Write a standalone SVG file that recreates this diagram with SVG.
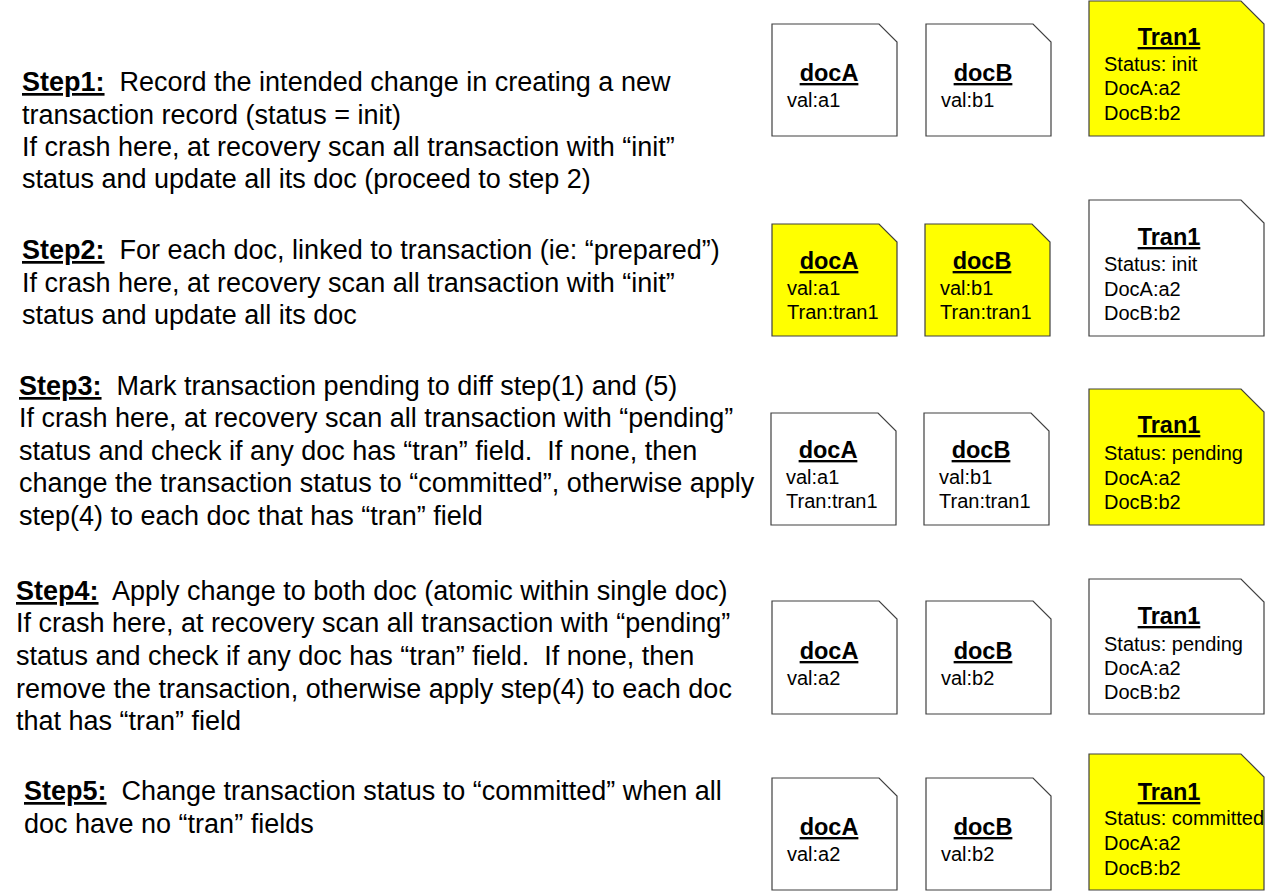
<svg xmlns="http://www.w3.org/2000/svg" width="1283" height="892" viewBox="0 0 1283 892">
<style>
.bg{fill:#fff}
.doc{fill:#fff;stroke:#404040;stroke-width:1.2}
.y{fill:#ffff00}
.t{font-family:"Liberation Sans",Arial,sans-serif;font-size:27px;fill:#000;white-space:pre}
.b{font-weight:bold;text-decoration:underline}
.h{font-family:"Liberation Sans",Arial,sans-serif;font-size:23.5px;font-weight:bold;text-decoration:underline;text-anchor:middle;fill:#000}
.v{font-family:"Liberation Sans",Arial,sans-serif;font-size:20px;fill:#000}
</style>
<rect class="bg" x="0" y="0" width="1283" height="892"/>

<g id="steps">
<g id="step1">
<text class="t" x="22" y="91" xml:space="preserve"><tspan class="b">Step1:</tspan>  Record the intended change in creating a new</text>
<text class="t" x="22" y="124">transaction record (status = init)</text>
<text class="t" x="22" y="156">If crash here, at recovery scan all transaction with “init”</text>
<text class="t" x="22" y="188">status and update all its doc (proceed to step 2)</text>
</g>
<g id="step2">
<text class="t" x="22" y="259" xml:space="preserve"><tspan class="b">Step2:</tspan>  For each doc, linked to transaction (ie: “prepared”)</text>
<text class="t" x="22" y="292">If crash here, at recovery scan all transaction with “init”</text>
<text class="t" x="22" y="324">status and update all its doc</text>
</g>
<g id="step3">
<text class="t" x="19" y="395" xml:space="preserve"><tspan class="b">Step3:</tspan>  Mark transaction pending to diff step(1) and (5)</text>
<text class="t" x="19" y="427">If crash here, at recovery scan all transaction with “pending”</text>
<text class="t" x="19" y="460" xml:space="preserve">status and check if any doc has “tran” field.  If none, then</text>
<text class="t" x="19" y="492">change the transaction status to “committed”, otherwise apply</text>
<text class="t" x="19" y="525">step(4) to each doc that has “tran” field</text>
</g>
<g id="step4">
<text class="t" x="16" y="600" xml:space="preserve"><tspan class="b">Step4:</tspan>  Apply change to both doc (atomic within single doc)</text>
<text class="t" x="16" y="632">If crash here, at recovery scan all transaction with “pending”</text>
<text class="t" x="16" y="665" xml:space="preserve">status and check if any doc has “tran” field.  If none, then</text>
<text class="t" x="16" y="698">remove the transaction, otherwise apply step(4) to each doc</text>
<text class="t" x="16" y="730">that has “tran” field</text>
</g>
<g id="step5">
<text class="t" x="24" y="800" xml:space="preserve"><tspan class="b">Step5:</tspan>  Change transaction status to “committed” when all</text>
<text class="t" x="24" y="833">doc have no “tran” fields</text>
</g>
</g>

<!-- Row 1 -->
<g id="r1-docA">
<path class="doc" d="M772,24 H879 L897,42 V136 H772 Z"/>
<text class="h" x="829" y="81">docA</text>
<text class="v" x="787" y="107">val:a1</text>
</g>
<g id="r1-docB">
<path class="doc" d="M926,24 H1033 L1051,42 V136 H926 Z"/>
<text class="h" x="983" y="81">docB</text>
<text class="v" x="941" y="107">val:b1</text>
</g>
<g id="r1-tran1">
<path class="doc y" d="M1089,1 H1241 L1264,24 V136 H1089 Z"/>
<text class="h" x="1169" y="45">Tran1</text>
<text class="v" x="1104" y="71">Status: init</text>
<text class="v" x="1104" y="95">DocA:a2</text>
<text class="v" x="1104" y="120">DocB:b2</text>
</g>

<!-- Row 2 -->
<g id="r2-docA">
<path class="doc y" d="M772,224 H879 L897,242 V336 H772 Z"/>
<text class="h" x="829" y="269">docA</text>
<text class="v" x="787" y="295">val:a1</text>
<text class="v" x="787" y="319">Tran:tran1</text>
</g>
<g id="r2-docB">
<path class="doc y" d="M925,224 H1032 L1050,242 V336 H925 Z"/>
<text class="h" x="982" y="269">docB</text>
<text class="v" x="940" y="295">val:b1</text>
<text class="v" x="940" y="319">Tran:tran1</text>
</g>
<g id="r2-tran1">
<path class="doc" d="M1089,200 H1241 L1264,223 V336 H1089 Z"/>
<text class="h" x="1169" y="245">Tran1</text>
<text class="v" x="1104" y="271">Status: init</text>
<text class="v" x="1104" y="296">DocA:a2</text>
<text class="v" x="1104" y="320">DocB:b2</text>
</g>

<!-- Row 3 -->
<g id="r3-docA">
<path class="doc" d="M771,413 H878 L896,431 V525 H771 Z"/>
<text class="h" x="828" y="458">docA</text>
<text class="v" x="786" y="484">val:a1</text>
<text class="v" x="786" y="508">Tran:tran1</text>
</g>
<g id="r3-docB">
<path class="doc" d="M924,413 H1031 L1049,431 V525 H924 Z"/>
<text class="h" x="981" y="458">docB</text>
<text class="v" x="939" y="484">val:b1</text>
<text class="v" x="939" y="508">Tran:tran1</text>
</g>
<g id="r3-tran1">
<path class="doc y" d="M1089,389 H1241 L1264,412 V525 H1089 Z"/>
<text class="h" x="1169" y="433">Tran1</text>
<text class="v" x="1104" y="460">Status: pending</text>
<text class="v" x="1104" y="485">DocA:a2</text>
<text class="v" x="1104" y="509">DocB:b2</text>
</g>

<!-- Row 4 -->
<g id="r4-docA">
<path class="doc" d="M772,601 H879 L897,619 V714 H772 Z"/>
<text class="h" x="829" y="659">docA</text>
<text class="v" x="787" y="685">val:a2</text>
</g>
<g id="r4-docB">
<path class="doc" d="M926,601 H1033 L1051,619 V714 H926 Z"/>
<text class="h" x="983" y="659">docB</text>
<text class="v" x="941" y="685">val:b2</text>
</g>
<g id="r4-tran1">
<path class="doc" d="M1089,579 H1241 L1264,602 V714 H1089 Z"/>
<text class="h" x="1169" y="624">Tran1</text>
<text class="v" x="1104" y="651">Status: pending</text>
<text class="v" x="1104" y="675">DocA:a2</text>
<text class="v" x="1104" y="699">DocB:b2</text>
</g>

<!-- Row 5 -->
<g id="r5-docA">
<path class="doc" d="M772,778 H879 L897,796 V890 H772 Z"/>
<text class="h" x="829" y="835">docA</text>
<text class="v" x="787" y="861">val:a2</text>
</g>
<g id="r5-docB">
<path class="doc" d="M926,778 H1033 L1051,796 V890 H926 Z"/>
<text class="h" x="983" y="835">docB</text>
<text class="v" x="941" y="861">val:b2</text>
</g>
<g id="r5-tran1">
<path class="doc y" d="M1089,754 H1241 L1264,777 V890 H1089 Z"/>
<text class="h" x="1169" y="800">Tran1</text>
<text class="v" x="1104" y="825">Status: committed</text>
<text class="v" x="1104" y="850">DocA:a2</text>
<text class="v" x="1104" y="875">DocB:b2</text>
</g>

<g id="connectors"></g>
</svg>
